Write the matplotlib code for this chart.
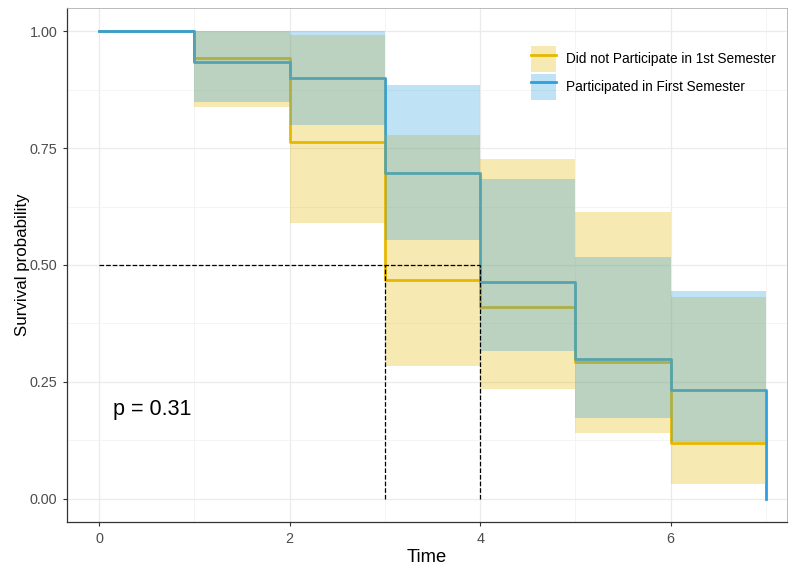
import numpy as np
import matplotlib.pyplot as plt
from matplotlib.patches import Patch
from matplotlib.lines import Line2D

plt.rcParams['font.family'] = ['Liberation Sans', 'DejaVu Sans']

# czasy zdarzen (krokowe, wartosc obowiazuje od danego czasu)
times = [0, 1, 2, 3, 4, 5, 6, 7]

# grupa 1: Did not Participate in 1st Semester
surv_no = [1.0, 0.942, 0.763, 0.468, 0.41, 0.293, 0.118, 0.118]
lower_no = [1.0, 0.838, 0.59, 0.284, 0.235, 0.141, 0.032, 0.032]
upper_no = [1.0, 1.0, 0.993, 0.778, 0.726, 0.613, 0.432, 0.432]

# grupa 2: Participated in First Semester
surv_yes = [1.0, 0.934, 0.90, 0.697, 0.464, 0.299, 0.232, 0.0]
lower_yes = [1.0, 0.848, 0.80, 0.553, 0.316, 0.173, 0.122, 0.122]
upper_yes = [1.0, 1.0, 1.0, 0.885, 0.684, 0.517, 0.444, 0.444]

labels = ["Did not Participate in 1st Semester", "Participated in First Semester"]
colors = ["#E7B800", "#2E9FDF"]

medians = [3, 4]
p_text = "p = 0.31"


def main():
    fig = plt.figure(figsize=(7.89, 5.68), dpi=100)
    ax = fig.add_axes([67 / 789, 1 - 522 / 568, 720 / 789, 514 / 568])

    t = np.array(times)
    # linie schodkowe
    ax.step(t, surv_no, where='post', color=colors[0], lw=2.0, zorder=3)
    t_yes = np.r_[t[:-1], t[-1], t[-1]]
    s_yes = np.r_[surv_yes[:-1], surv_yes[-2], surv_yes[-1]]
    ax.step(t_yes, s_yes, where='post', color=colors[1], lw=2.0, zorder=3)

    # przedzialy ufnosci (rysowane na liniach, jak w survminer)
    ax.fill_between(t, lower_no, upper_no, step='post', color=colors[0],
                    alpha=0.3, lw=0, zorder=4)
    ax.fill_between(t, lower_yes, upper_yes, step='post', color=colors[1],
                    alpha=0.3, lw=0, zorder=4)

    # linie mediany
    ax.plot([0, max(medians)], [0.5, 0.5], ls='--', color='black', lw=0.9, zorder=5)
    for m in medians:
        ax.plot([m, m], [0, 0.5], ls='--', color='black', lw=0.9, zorder=5)

    ax.text(0.15, 0.19, p_text, fontsize=15.5, va='center', ha='left', zorder=6)

    ax.set_xlim(-0.336, 7.22)
    ax.set_ylim(-0.05, 1.05)
    ax.set_xticks([0, 2, 4, 6])
    ax.set_xticks([1, 3, 5, 7], minor=True)
    ax.set_yticks([0, 0.25, 0.5, 0.75, 1.0])
    ax.set_yticks([0.125, 0.375, 0.625, 0.875], minor=True)
    ax.set_yticklabels(["0.00", "0.25", "0.50", "0.75", "1.00"])
    ax.grid(True, which='major', color='#EBEBEB', lw=0.9, zorder=0)
    ax.grid(True, which='minor', color='#F2F2F2', lw=0.6, zorder=0)
    ax.set_axisbelow(True)
    ax.tick_params(which='minor', length=0)
    ax.tick_params(which='major', length=3, color='#333333', labelsize=10.4,
                   labelcolor='#4D4D4D', pad=4)

    for side in ['top', 'right']:
        ax.spines[side].set_color('#B0B0B0')
        ax.spines[side].set_linewidth(0.6)
    for side in ['left', 'bottom']:
        ax.spines[side].set_color('#333333')
        ax.spines[side].set_linewidth(0.9)

    ax.set_xlabel("Time", fontsize=13.2, labelpad=2)
    ax.set_ylabel("Survival probability", fontsize=12.2, labelpad=0)

    handles = []
    for c in colors:
        handles.append((Patch(facecolor=c, alpha=0.3, lw=0),
                        Line2D([], [], color=c, lw=2.0)))
    ax.legend(handles, labels, loc='upper left',
              bbox_to_anchor=(531 / 789, 1 - 46 / 568), bbox_transform=fig.transFigure,
              frameon=False, fontsize=9.8, handlelength=1.85, handleheight=2.6,
              labelspacing=0.1, handletextpad=0.7, borderpad=0, borderaxespad=0)

    fig.savefig("out.png", dpi=100)


if __name__ == "__main__":
    main()
